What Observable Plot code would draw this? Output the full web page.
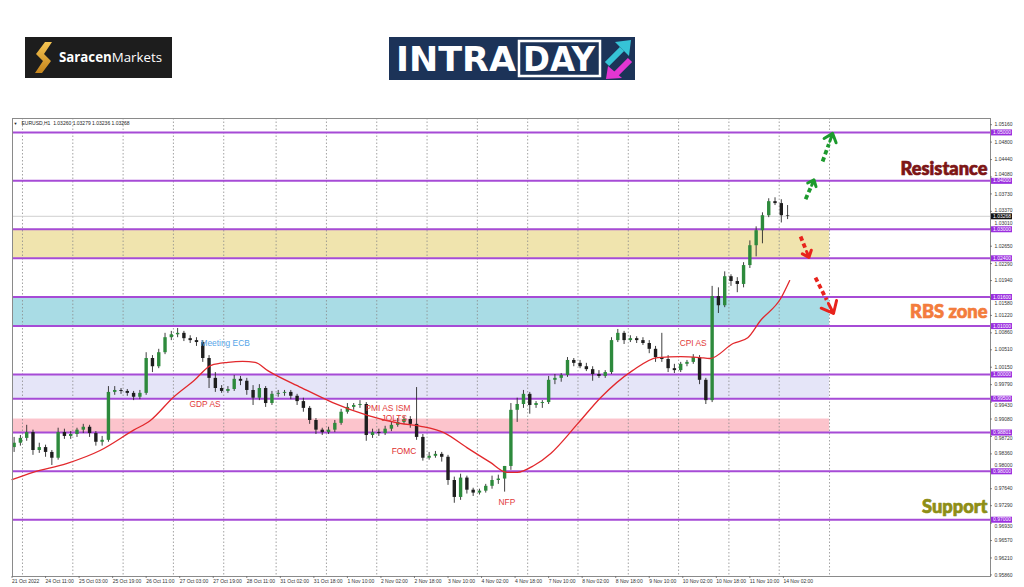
<!DOCTYPE html>
<html><head><meta charset="utf-8">
<script src="https://cdn.jsdelivr.net/npm/d3@7"></script>
<script src="https://cdn.jsdelivr.net/npm/@observablehq/plot@0.6"></script>
<style>
html,body{margin:0;padding:0;background:#fff;}
#wrap{position:relative;width:1024px;height:587px;overflow:hidden;}
#chart{position:absolute;left:0;top:0;}
.logo{position:absolute;}
</style></head><body>
<div id="wrap"><div id="chart"></div>
<svg class="logo" style="left:25px;top:37px" width="147" height="41" viewBox="0 0 147 41">
  <defs><linearGradient id="gold" x1="0" y1="0" x2="0" y2="1"><stop offset="0" stop-color="#f6c552"/><stop offset="1" stop-color="#c4841c"/></linearGradient></defs>
  <rect width="147" height="41" fill="#1d1d1d"/>
  <path d="M20 5 L27 5 L19 17 L26 24 L17 36 L10 36 L18 24 L11 17 Z" fill="url(#gold)"/>
  <text x="34" y="25" font-family="'Open Sans','Liberation Sans',Arial,sans-serif" font-size="13.5" fill="#fff" textLength="103" lengthAdjust="spacingAndGlyphs"><tspan font-weight="700">Saracen</tspan><tspan font-weight="400">Markets</tspan></text>
</svg>
<svg class="logo" style="left:389px;top:37px" width="246" height="43" viewBox="0 0 246 43">
  <rect width="246" height="43" fill="#1c3358"/>
  <text x="7" y="34" font-family="'Liberation Sans Narrow','DejaVu Sans Condensed','Liberation Sans',Arial,sans-serif" font-weight="700" font-size="33" fill="#fff" textLength="120" lengthAdjust="spacingAndGlyphs">INTRA</text>
  <rect x="130" y="4" width="81" height="35" fill="none" stroke="#fff" stroke-width="2.5"/>
  <text x="134" y="34" font-family="'Liberation Sans Narrow','DejaVu Sans Condensed','Liberation Sans',Arial,sans-serif" font-weight="700" font-size="33" fill="#fff" textLength="72" lengthAdjust="spacingAndGlyphs">DAY</text>
  <line x1="218" y1="27" x2="233" y2="12" stroke="#36c3d6" stroke-width="6"/>
  <polygon points="226,5 242,3 240,19" fill="#36c3d6"/>
  <line x1="241" y1="23" x2="227" y2="37" stroke="#e236d2" stroke-width="6"/>
  <polygon points="219,29 217,42 233,41" fill="#e236d2"/>
</svg>
</div>
<script>
// ---- 3-hour candles of EURUSD (H1 chart) ----
const opens = [.9849,.9858,.9868,.9880,.9843,.9849,.9839,.9827,.9880,.9872,
.9876,.9885,.9891,.9878,.9860,.9864,.9963,.9967,.9965,.9961,
.9953,.9961,1.0033,1.0016,1.0045,1.0076,1.0082,1.0085,1.0074,1.0070,
1.0066,1.0033,.9992,.9971,.9965,.9969,.9990,.9986,.9967,.9951,
.9971,.9940,.9959,.9961,.9963,.9955,.9944,.9930,.9905,.9885,
.9880,.9885,.9899,.9922,.9932,.9936,.9938,.9874,.9880,.9878,
.9887,.9895,.9901,.9907,.9897,.9870,.9827,.9831,.9835,.9829,
.9781,.9746,.9786,.9761,.9755,.9759,.9769,.9781,.9784,.9810,
.9926,.9938,.9959,.9936,.9940,.9942,.9988,.9992,.9998,1.0029,
1.0023,1.0016,1.0010,1.0000,.9996,1.0004,1.0070,1.0085,1.0070,1.0074,
1.0070,1.0064,1.0052,1.0035,1.0031,1.0012,1.0008,1.0021,1.0025,1.0035,
.9988,.9946,1.0161,1.0142,1.0202,1.0192,1.0186,1.0225,1.0266,1.0297,
1.0328,1.0357,1.0353,1.0328];
const highs = [.9870,.9874,.9895,.9885,.9858,.9854,.9843,.9889,.9887,.9882,
.9889,.9897,.9895,.9882,.9872,.9975,.9975,.9971,.9969,.9965,
.9967,1.0045,1.0039,1.0052,1.0085,1.0089,1.0095,1.0089,1.0080,1.0076,
1.0070,1.0039,1.0004,.9977,.9975,.9998,.9996,.9992,.9977,.9979,
.9975,.9965,.9967,.9967,.9967,.9959,.9951,.9934,.9909,.9889,
.9891,.9905,.9928,.9940,.9940,.9946,.9942,.9887,.9887,.9893,
.9901,.9909,.9913,.9913,.9973,.9876,.9839,.9841,.9839,.9833,
.9788,.9794,.9790,.9765,.9763,.9773,.9790,.9792,.9810,.9940,
.9951,.9967,.9963,.9944,.9946,.9996,1.0000,1.0002,1.0035,1.0033,
1.0029,1.0023,1.0016,1.0008,1.0008,1.0076,1.0093,1.0089,1.0080,1.0078,
1.0076,1.0070,1.0058,1.0085,1.0039,1.0021,1.0025,1.0029,1.0041,1.0039,
.9992,1.0182,1.0179,1.0212,1.0206,1.0200,1.0231,1.0276,1.0305,1.0334,
1.0363,1.0365,1.0361,1.0349];
const lows = [.9839,.9852,.9862,.9833,.9837,.9829,.9812,.9823,.9866,.9866,
.9870,.9878,.9870,.9852,.9852,.9860,.9957,.9959,.9955,.9946,
.9948,.9957,1.0004,1.0012,1.0041,1.0070,1.0076,1.0068,1.0064,1.0058,
1.0025,.9971,.9963,.9961,.9961,.9965,.9977,.9957,.9936,.9946,
.9932,.9936,.9953,.9955,.9948,.9936,.9922,.9897,.9876,.9874,
.9876,.9880,.9895,.9918,.9926,.9930,.9862,.9868,.9872,.9874,
.9882,.9891,.9897,.9889,.9864,.9821,.9823,.9827,.9819,.9771,
.9734,.9740,.9753,.9748,.9751,.9755,.9763,.9773,.9757,.9802,
.9901,.9930,.9918,.9930,.9930,.9938,.9979,.9984,.9994,1.0016,
1.0012,1.0006,.9986,.9992,.9992,1.0000,1.0066,1.0062,1.0066,1.0064,
1.0060,1.0043,1.0025,1.0025,1.0004,1.0002,1.0004,1.0016,1.0021,.9979,
.9938,.9942,1.0126,1.0138,1.0182,1.0169,1.0179,1.0219,1.0243,1.0270,
1.0324,1.0349,1.0313,1.0320];
const closes = [.9858,.9868,.9880,.9843,.9849,.9839,.9827,.9880,.9872,.9876,
.9885,.9891,.9878,.9860,.9864,.9963,.9967,.9965,.9961,.9953,
.9961,1.0033,1.0016,1.0045,1.0076,1.0082,1.0085,1.0074,1.0070,1.0066,
1.0033,.9992,.9971,.9965,.9969,.9990,.9986,.9967,.9951,.9971,
.9940,.9959,.9961,.9963,.9955,.9944,.9930,.9905,.9885,.9880,
.9885,.9899,.9922,.9932,.9936,.9938,.9874,.9880,.9878,.9887,
.9895,.9901,.9907,.9897,.9870,.9827,.9831,.9835,.9829,.9781,
.9746,.9786,.9761,.9755,.9759,.9769,.9781,.9784,.9810,.9926,
.9938,.9959,.9936,.9940,.9942,.9988,.9992,.9998,1.0029,1.0023,
1.0016,1.0010,1.0000,.9996,1.0004,1.0070,1.0085,1.0070,1.0074,1.0070,
1.0064,1.0052,1.0035,1.0031,1.0012,1.0008,1.0021,1.0025,1.0035,.9988,
.9946,1.0161,1.0142,1.0202,1.0192,1.0186,1.0225,1.0266,1.0297,1.0328,
1.0357,1.0353,1.0328,1.03268];
const hoursPerCandle = 3;

// moving average (red line), hour index -> value
const maHour = [0,10,26,42,58,66,77,87,95,103,110,116,122,138,153,170,185,195,206,217,228,236,241,249,257,270,281,296,308,319,328,333,344,351,357,367,371];
const maValue = [0.9783,0.9798,0.9816,0.9843,0.9885,0.9905,0.9953,0.9988,1.0019,1.0025,1.0027,1.0025,1.0008,0.9973,0.9942,0.9915,0.9899,0.9893,0.9880,0.9849,0.9819,0.9798,0.9798,0.9812,0.9837,0.9899,0.9953,1.0008,1.0035,1.0037,1.0035,1.0033,1.0064,1.0076,1.0111,1.0159,1.0194];

// horizontal levels and zones
const levels = [1.05000,1.04000,1.03000,1.02400,1.01600,1.01000,1.00000,0.99500,0.98801,0.98000,0.97000];
const currentPrice = 1.03268;
const zoneLow  = [1.0240, 1.0100, 0.9950, 0.98801];
const zoneHigh = [1.0300, 1.0160, 1.0000, 0.9908];
const zoneEndHour = 390;

// axes
const yTicks = [1.05160,1.04800,1.04440,1.04080,1.03730,1.03370,1.03010,1.02650,1.02290,1.01940,1.01580,1.01220,1.00860,1.00510,1.00150,0.99790,0.99430,0.99080,0.98720,0.98360,0.98000,0.97640,0.97290,0.96930,0.96570,0.96210,0.95860];
const xLabelHour = [0,16,32,48,64,80,96,112,128,144,160,176,192,208,224,240,256,272,288,304,320,336,352,368];
const xLabels = ["21 Oct 2022","24 Oct 11:00","25 Oct 03:00","25 Oct 19:00","26 Oct 11:00","27 Oct 03:00","27 Oct 19:00","28 Oct 11:00","31 Oct 02:00","31 Oct 18:00","1 Nov 10:00","2 Nov 02:00","2 Nov 18:00","3 Nov 10:00","4 Nov 02:00","4 Nov 18:00","7 Nov 10:00","8 Nov 02:00","8 Nov 18:00","9 Nov 10:00","10 Nov 02:00","10 Nov 18:00","11 Nov 10:00","14 Nov 02:00"];
const dayStartHour = [5,29,53,77,101,126,150,174,198,222,246,270,294,318,342,366,390];
const headerText = "EURUSD,H1  1.03260 1.03279 1.03236 1.03268";

// event annotations
const eventText  = ["Meeting ECB","GDP AS","PMI AS ISM","JOLTS","FOMC","NFP","CPI AS"];
const eventHour  = [89.9, 84.7, 168.6, 176.3, 181.1, 232.1, 318.5];
const eventPrice = [1.0064, 0.9938, 0.9931, 0.9910, 0.9841, 0.9736, 1.0064];

// scenario arrows
const arrowFromHour  = [378.6, 386.7, 376.2, 383.3];
const arrowFromPrice = [1.0362, 1.0440, 1.0285, 1.0200];
const arrowToHour    = [382.6, 391.5, 380.2, 391.9];
const arrowToPrice   = [1.0402, 1.0498, 1.0242, 1.0126];
const arrowDirection = ["up","up","down","down"];

// zone labels
const zoneLabels = ["Resistance","RBS zone","Support"];
const zoneLabelPrice = [1.04235, 1.01281, 0.97253];

// ---------------- build ----------------
const xDomain = [0.23, 466.8];
const yDomain = [0.95827, 1.05288];
const X1 = xDomain[1];
const pxX = (xDomain[1]-xDomain[0]) / 978;   // data units per pixel
const pxY = (yDomain[1]-yDomain[0]) / 458;

const candles = opens.map((o,k)=>({x: hoursPerCandle*k+1, open:o, high:highs[k], low:lows[k], close:closes[k]}));
const ups = candles.filter(d=>d.close>=d.open), downs = candles.filter(d=>d.close<d.open);
const ma = maHour.map((h,i)=>({x:h, y:maValue[i]}));
const zoneColors = ["#f0e4ae","#a9dce5","#e5e5f8","#fcc4cc"];
const zones = zoneLow.map((lo,i)=>({lo, hi:zoneHigh[i], i}));
const events = eventText.map((t,i)=>({t, x:eventHour[i], y:eventPrice[i]}));
const eventColors = ["#55a5e8","#e23a3a","#e23a3a","#e23a3a","#e03030","#e23a3a","#e23a3a"];
const arrows = arrowFromHour.map((x,i)=>({x1:x, y1:arrowFromPrice[i], x2:arrowToHour[i], y2:arrowToPrice[i], dir:arrowDirection[i]}));
const xLab = xLabelHour.map((h,i)=>({x:h, t:xLabels[i]}));
const zoneLab = zoneLabels.map((t,i)=>({t, y:zoneLabelPrice[i]}));
const zoneLabColors = ["#7d1515","#f37c3c","#8e8e16"];

// tick labels that sit under a level box are nudged off it (as in the original, where they peek out)
const tickLab = yTicks.map(v => {
  let dy = 0;
  for (const L of [...levels, currentPrice]) {
    const dpx = (v - L) / pxY;           // >0 : tick above the level
    if (Math.abs(dpx) < 6.2) dy = dpx >= 0 ? -(6.2 - dpx) : (6.2 + dpx);
  }
  return {v, dy};
});

const marks = [];
zones.forEach(z => marks.push(Plot.rect([z], {x1: xDomain[0], x2: zoneEndHour, y1:"lo", y2:"hi", fill: zoneColors[z.i]})));
marks.push(Plot.ruleX(dayStartHour, {stroke:"#8c8c8c", strokeWidth:0.8, strokeDasharray:"1.5,2"}));
marks.push(Plot.ruleY([currentPrice], {stroke:"#cfcfcf", strokeWidth:1}));
marks.push(Plot.ruleY(levels, {stroke:"#a64bd6", strokeWidth:2}));
// candles
marks.push(Plot.ruleX(candles, {x:"x", y1:"low", y2:"high", stroke:"#2a2a2a", strokeWidth:0.9}));
marks.push(Plot.ruleX(ups, {x:"x", y1:"open", y2:"close", stroke:"#2d8a3c", strokeWidth:3.4}));
marks.push(Plot.ruleX(downs, {x:"x", y1:"open", y2:"close", stroke:"#1e1e1e", strokeWidth:3.4}));
// moving average
marks.push(Plot.line(ma, {x:"x", y:"y", curve:"monotone-x", stroke:"#e2282c", strokeWidth:1.3}));
// event labels
events.forEach((e,i)=> marks.push(Plot.text([e], {x:"x", y:"y", text:"t", textAnchor:"start", fontSize:8.4, fill:eventColors[i], fontFamily:"'Liberation Sans',Arial,sans-serif"})));
// arrows: dashed shafts + solid chevron heads
arrows.forEach(a => {
  const col = a.dir==="up" ? "#1d9a2e" : "#e8231c";
  const Lpx = Math.hypot((a.x2-a.x1)/pxX, (a.y2-a.y1)/pxY);
  marks.push(Plot.link([a], {x1:"x1", y1:"y1", x2: d=>d.x1+0.62*(d.x2-d.x1), y2: d=>d.y1+0.62*(d.y2-d.y1), stroke:col, strokeWidth:3.8, strokeDasharray:"4.5,3"}));
  marks.push(Plot.arrow([a], {x1:"x1", y1:"y1", x2:"x2", y2:"y2", insetStart: Lpx*0.72, stroke:col, strokeWidth:3, headLength:14, headAngle:80}));
});
// zone labels
zoneLab.forEach((z,i)=> marks.push(Plot.text([z], {x: X1, y:"y", text:"t", dx:-3, textAnchor:"end", fontSize:18.3, fontWeight:900, fill: zoneLabColors[i], stroke: zoneLabColors[i], strokeWidth:0.7, fontFamily:"Lato, Roboto, sans-serif"})));
// frame
marks.push(Plot.frame({stroke:"#8a8a8a", strokeWidth:1}));
// header
marks.push(Plot.text(["▼"], {x: xDomain[0], y: yDomain[1], dx:3, dy:5, text:d=>d, fontSize:4, fill:"#222"}));
marks.push(Plot.text([headerText], {x: xDomain[0], y: yDomain[1], dx:9, dy:5, text:d=>d, textAnchor:"start", fontSize:5, fill:"#222"}));
// right axis
marks.push(Plot.ruleY(yTicks, {x1: X1, x2: X1 + 2*pxX, stroke:"#666", strokeWidth:0.8}));
tickLab.forEach(t => marks.push(Plot.text([t], {x: X1, y: "v", text: d=>d.v.toFixed(5), dx:4, dy: t.dy, textAnchor:"start", fontSize:5, fill:"#333"})));
marks.push(Plot.ruleY(levels, {x1: X1 + 1*pxX, x2: X1 + 22*pxX, stroke:"#9b2fdf", strokeWidth:6}));
marks.push(Plot.text(levels, {x: X1 + 11.5*pxX, y: d=>d, text: d=>d.toFixed(5), fontSize:5, fill:"#fff"}));
marks.push(Plot.ruleY([currentPrice], {x1: X1 + 1*pxX, x2: X1 + 22*pxX, stroke:"#111", strokeWidth:6}));
marks.push(Plot.text([currentPrice], {x: X1 + 11.5*pxX, y: d=>d, text: d=>d.toFixed(5), fontSize:5, fill:"#fff"}));
// bottom axis
marks.push(Plot.ruleX(xLabelHour, {y1: yDomain[0], y2: yDomain[0] - 2*pxY, stroke:"#666", strokeWidth:0.8}));
marks.push(Plot.text(xLab, {x:"x", y: yDomain[0], text:"t", dy:5, textAnchor:"start", fontSize:5, fill:"#333"}));

const chart = Plot.plot({
  width: 1024, height: 587,
  marginLeft: 12, marginRight: 34, marginTop: 118, marginBottom: 11,
  x: {domain: xDomain, axis: null},
  y: {domain: yDomain, axis: null},
  style: {background: "white", fontFamily: "'Liberation Sans', Arial, sans-serif", overflow: "visible"},
  marks
});
document.getElementById("chart").appendChild(chart);
</script>
</body></html>
